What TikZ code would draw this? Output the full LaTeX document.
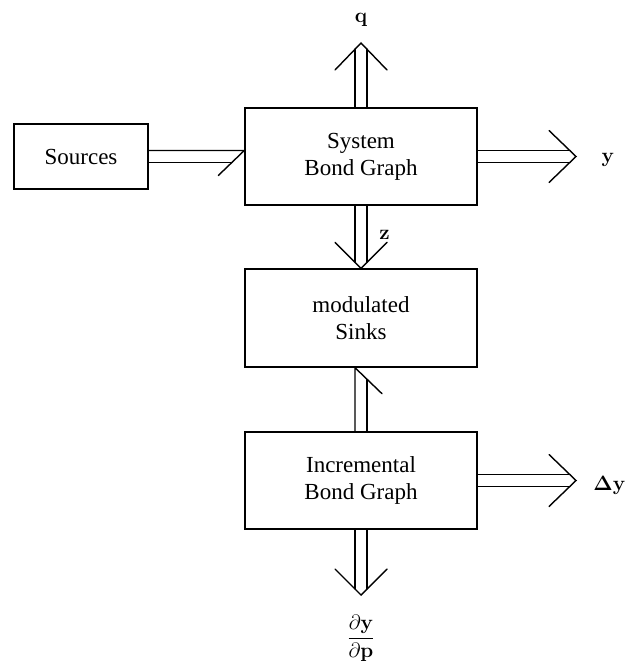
\documentclass[tikz,border=0pt]{standalone}
\usepackage[no-math]{fontspec}
\setmainfont{Liberation Serif}
\usetikzlibrary{calc}
\begin{document}
\begin{tikzpicture}[x=1pt,y=-1pt, line width=1.4pt,
  blockbox/.style={draw, rectangle, align=center, font=\fontsize{23}{27}\selectfont, inner sep=0pt},
  bigbox/.style={blockbox, minimum width=232pt, minimum height=97pt},
  lbl/.style={font=\fontsize{22}{26}\selectfont, inner sep=0pt},
  bond/.style={line width=1.4pt, line cap=round, line join=miter}]
\useasboundingbox (0,0) rectangle (637,661);

% blocks
\node[blockbox, minimum width=134pt, minimum height=65pt] (src) at (81,156.5) {Sources};
\node[bigbox] (sys) at (361,156.5) {System\\Bond Graph};
\node[bigbox, minimum height=98pt] (sink) at (361,318) {modulated\\Sinks};
\node[bigbox] (inc) at (361,480.5) {Incremental\\Bond Graph};

% free ends
\coordinate (qtip) at (361,43);
\coordinate (ytip) at (576,156.5);
\coordinate (dytip) at (576,480.5);
\coordinate (dptip) at (361,595);

% Sources -> System (half arrow)
\draw[bond] ($(src.east)+(0,-6)$) -- ($(sys.west)+(0,-6)$) -- ++(-26,25);
\draw[bond] ($(src.east)+(0,6)$) -- ($(sys.west)+(-12.5,6)$);

% System -> q
\draw[bond] ($(sys.north)+(-6,0)$) -- ($(qtip)+(-6,6.2)$);
\draw[bond] ($(sys.north)+(6,0)$) -- ($(qtip)+(6,6.2)$);
\draw[bond] ($(qtip)+(-26,27)$) -- (qtip) -- ++(26,27);

% System -> y
\draw[bond] ($(sys.east)+(0,-6)$) -- ($(ytip)+(-6.2,-6)$);
\draw[bond] ($(sys.east)+(0,6)$) -- ($(ytip)+(-6.2,6)$);
\draw[bond] ($(ytip)+(-27,-26)$) -- (ytip) -- ++(-27,26);

% System -> modulated Sinks (z)
\draw[bond] ($(sys.south)+(-6,0)$) -- ($(sink.north)+(-6,-6.2)$);
\draw[bond] ($(sys.south)+(6,0)$) -- ($(sink.north)+(6,-6.2)$);
\draw[bond] ($(sink.north)+(-26,-26)$) -- (sink.north) -- ++(26,-26);

% Incremental -> modulated Sinks (half arrow)
\draw[bond] ($(inc.north)+(-6,0)$) -- ($(sink.south)+(-6,0)$) -- ++(27,26);
\draw[bond] ($(inc.north)+(6,0)$) -- ($(sink.south)+(6,11.6)$);

% Incremental -> Delta y
\draw[bond] ($(inc.east)+(0,-6)$) -- ($(dytip)+(-6.2,-6)$);
\draw[bond] ($(inc.east)+(0,6)$) -- ($(dytip)+(-6.2,6)$);
\draw[bond] ($(dytip)+(-27,-26)$) -- (dytip) -- ++(-27,26);

% Incremental -> dy/dp
\draw[bond] ($(inc.south)+(-6,0)$) -- ($(dptip)+(-6,-6.2)$);
\draw[bond] ($(inc.south)+(6,0)$) -- ($(dptip)+(6,-6.2)$);
\draw[bond] ($(dptip)+(-26,-26)$) -- (dptip) -- ++(26,-26);

% labels
\node[lbl, anchor=base] (ql) at (361,23) {$\mathbf{q}$};
\node[lbl, anchor=base] (yl) at (608,162) {$\mathbf{y}$};
\node[lbl, anchor=base] (zl) at (384.5,239) {$\mathbf{z}$};
\node[lbl, anchor=base] (dyl) at (609.5,490) {$\mathbf{\Delta y}$};
\node[lbl] (dpl) at (361,638) {$\displaystyle\frac{\partial\mathbf{y}}{\partial\mathbf{p}}$};
\end{tikzpicture}
\end{document}
